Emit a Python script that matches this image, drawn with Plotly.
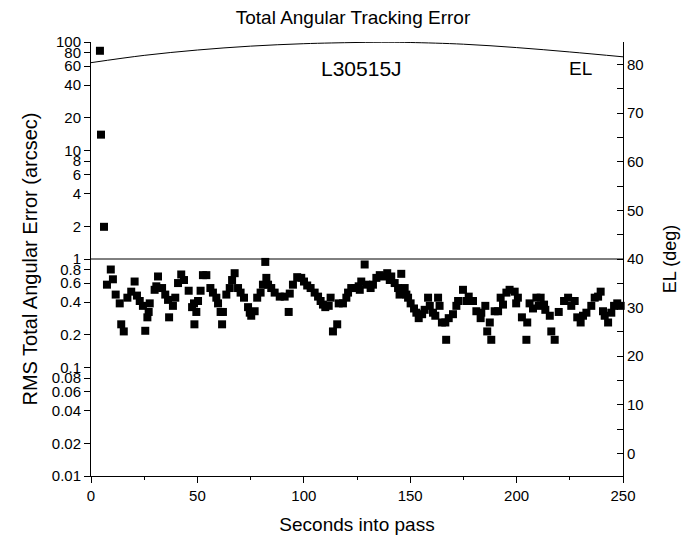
import plotly.graph_objects as go

# RMS total angular error samples (seconds into pass, arcsec)
t_err = [4.2, 4.7, 6.1, 7.5, 9.3, 10.3, 11.6, 13.5, 14.2, 15.4, 17.1, 18.9, 20.5, 21.6, 22.9,
         24.4, 25.5, 26.5, 27.1, 27.6, 29.9, 30.7, 31.5, 33.4, 34.9, 36.2, 36.7, 38.5, 39.6,
         40.9, 42.4, 43.7, 45.9, 47.5, 48.4, 48.6, 49.5, 50.3, 51.5, 52.6, 54.2, 56.1, 57.3,
         58.9, 59.7, 60.9, 61.6, 62.0, 63.6, 65.2, 66.3, 67.5, 69.1, 70.3, 71.9, 73.8, 74.6,
         75.3, 76.9, 78.1, 79.7, 80.8, 81.9, 82.4, 83.2, 84.7, 86.3, 88.7, 91.0, 92.9, 93.4,
         94.9, 96.9, 98.8, 100.1, 101.6, 103.2, 105.1, 106.7, 107.9, 109.0, 110.1, 111.7,
         112.6, 113.7, 115.7, 116.4, 118.4, 120.0, 120.8, 122.3, 124.2, 125.8, 126.3, 127.0,
         128.6, 129.4, 131.4, 132.5, 134.1, 135.7, 137.2, 139.2, 140.4, 141.1, 142.7, 144.3,
         145.0, 145.8, 147.4, 148.2, 149.0, 150.2, 151.8, 152.9, 154.0, 155.6, 156.8, 158.4,
         159.2, 160.7, 161.8, 163.1, 163.8, 164.9, 166.5, 166.9, 168.1, 170.1, 171.7, 172.5,
         174.8, 176.4, 177.5, 179.5, 181.1, 183.1, 183.4, 185.3, 186.2, 187.4, 188.1, 189.7,
         191.3, 192.5, 193.6, 195.2, 196.7, 199.1, 199.8, 200.6, 202.5, 204.6, 205.0, 206.1,
         207.7, 209.3, 210.4, 211.3, 212.9, 213.5, 215.6, 216.3, 217.9, 219.8, 222.3, 224.2,
         225.7, 227.3, 228.5, 230.1, 231.2, 232.8, 235.1, 236.7, 238.3, 239.5, 240.6, 241.4,
         243.0, 244.5, 245.8, 247.3, 248.9]
rms_err = [83, 14, 1.98, 0.58, 0.80, 0.65, 0.47, 0.39, 0.25, 0.215, 0.44, 0.50, 0.62, 0.46, 0.41,
           0.37, 0.218, 0.29, 0.325, 0.39, 0.52, 0.56, 0.69, 0.54, 0.47, 0.42, 0.29, 0.37, 0.44,
           0.60, 0.72, 0.64, 0.51, 0.36, 0.39, 0.25, 0.325, 0.41, 0.51, 0.71, 0.71, 0.54, 0.49,
           0.44, 0.39, 0.325, 0.25, 0.325, 0.47, 0.54, 0.64, 0.74, 0.54, 0.49, 0.44, 0.36, 0.32,
           0.30, 0.33, 0.44, 0.49, 0.58, 0.94, 0.67, 0.58, 0.54, 0.49, 0.45, 0.45, 0.325, 0.48,
           0.58, 0.68, 0.67, 0.62, 0.57, 0.54, 0.49, 0.45, 0.41, 0.38, 0.36, 0.37,
           0.44, 0.215, 0.25, 0.39, 0.39, 0.44, 0.49, 0.54, 0.54, 0.56, 0.52, 0.62,
           0.89, 0.58, 0.54, 0.58, 0.67, 0.71, 0.69, 0.74, 0.64, 0.69, 0.60, 0.54,
           0.47, 0.73, 0.54, 0.47, 0.44, 0.39, 0.35, 0.32, 0.285, 0.31, 0.34, 0.44,
           0.37, 0.32, 0.30, 0.44, 0.37, 0.26, 0.26, 0.18, 0.285, 0.31, 0.37, 0.41,
           0.52, 0.41, 0.45, 0.41, 0.33, 0.285, 0.32, 0.37, 0.215, 0.26, 0.18, 0.33,
           0.33, 0.44, 0.38, 0.49, 0.52, 0.50, 0.39, 0.44, 0.29, 0.18, 0.26, 0.39,
           0.35, 0.44, 0.37, 0.44, 0.38, 0.34, 0.30, 0.215, 0.18, 0.325, 0.41, 0.44,
           0.37, 0.41, 0.29, 0.26, 0.30, 0.32, 0.37, 0.44, 0.45, 0.50, 0.33, 0.30,
           0.26, 0.32, 0.37, 0.39, 0.37]

# elevation over the pass (deg)
t_el = [0, 25, 50, 75, 100, 125, 140, 150, 175, 200, 225, 250]
el_deg = [80.4, 81.9, 83.0, 83.8, 84.3, 84.55, 84.6, 84.55, 84.2, 83.5, 82.6, 81.6]

left_ticks = [0.01, 0.02, 0.04, 0.06, 0.08, 0.1, 0.2, 0.4, 0.6, 0.8, 1, 2, 4, 6, 8, 10, 20, 40, 60, 80, 100]
left_text = ["0.01", "0.02", "0.04", "0.06", "0.08", "0.1", "0.2", "0.4", "0.6", "0.8",
             "1", "2", "4", "6", "8", "10", "20", "40", "60", "80", "100"]

font = "Liberation Sans, Arial, sans-serif"

fig = go.Figure()
fig.add_trace(go.Scatter(x=t_err, y=rms_err, mode="markers",
                         marker=dict(symbol="square", size=8, color="black", line=dict(width=0)),
                         showlegend=False, cliponaxis=False))
fig.add_trace(go.Scatter(x=t_el, y=el_deg, mode="lines", yaxis="y2",
                         line=dict(color="black", width=1, shape="spline"),
                         showlegend=False))

# reference line at 1 arcsec
fig.add_shape(type="line", xref="paper", x0=0, x1=1, yref="y", y0=1, y1=1,
              line=dict(color="black", width=1))

fig.add_annotation(x=127, y=1.76, xref="x", yref="y", text="L30515J", showarrow=False,
                   font=dict(size=21, color="black", family=font))
fig.add_annotation(x=230, y=1.76, xref="x", yref="y", text="EL", showarrow=False,
                   font=dict(size=19, color="black", family=font))

# page body adds 8px on the left/top, so margins are trimmed by that
fig.update_layout(
    width=690, height=540,
    margin=dict(l=83, r=75, t=34, b=72, autoexpand=False),
    paper_bgcolor="white", plot_bgcolor="white",
    font=dict(family=font, size=15, color="black"),
    title=dict(text="Total Angular Tracking Error", x=0.5, xanchor="center", y=0.983, yanchor="middle",
               font=dict(size=19, color="black", family=font)),
    xaxis=dict(range=[0, 250], tickvals=[0, 50, 100, 150, 200, 250], showgrid=False, zeroline=False,
               showline=True, linecolor="black", linewidth=1, ticks="outside", ticklen=6,
               tickcolor="black", minor=dict(dtick=25, ticks="outside", ticklen=3, tickcolor="black"),
               title=dict(text="Seconds into pass", font=dict(size=19), standoff=14),
               tickfont=dict(size=15), automargin=False),
    yaxis=dict(type="log", range=[-2, 2], tickvals=left_ticks, ticktext=left_text, showgrid=False,
               zeroline=False, showline=True, linecolor="black", linewidth=1, ticks="outside",
               ticklen=6, tickcolor="black",
               title=dict(text="RMS Total Angular Error (arcsec)", font=dict(size=20), standoff=8),
               tickfont=dict(size=15), automargin=False),
    yaxis2=dict(overlaying="y", side="right", range=[-4.65, 84.65], tickvals=list(range(0, 81, 10)),
                showgrid=False, zeroline=False, showline=True, linecolor="black", linewidth=1,
                ticks="inside", ticklen=6, tickcolor="black",
                minor=dict(tickvals=list(range(5, 81, 10)), ticks="inside", ticklen=6, tickcolor="black"),
                title=dict(text="EL (deg)", font=dict(size=18), standoff=20),
                tickfont=dict(size=15), automargin=False),
)

fig.write_html("out.html")
